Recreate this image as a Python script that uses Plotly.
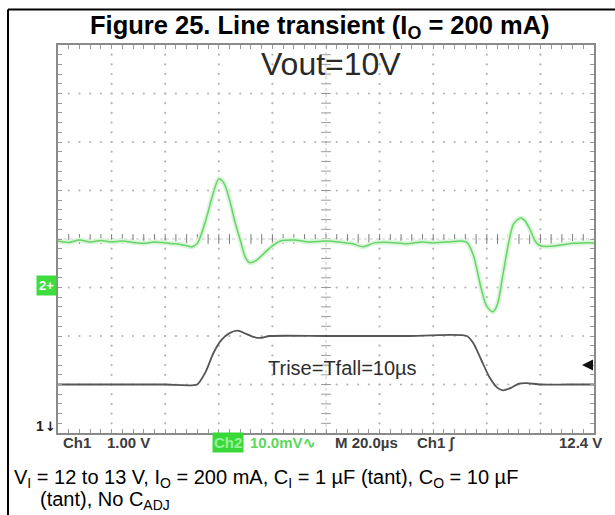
import plotly.graph_objects as go

# ---------------- data ----------------
# Ch1: input voltage (V), 1.00 V/div
time_ch1 = [0, 20, 40, 51.9, 55, 58, 61, 64, 67, 70, 73, 75.5, 79, 100, 130,
            152.6, 155, 158, 161, 164, 166, 169, 172, 175, 180, 190, 200]
ch1_volts = [12.0, 12.0, 12.0, 12.0, 12.25, 12.65, 12.92, 13.06, 13.11, 13.05, 12.98, 12.96, 13.0, 13.0, 13.0,
             13.0, 12.85, 12.5, 12.15, 11.93, 11.88, 11.93, 12.02, 12.03, 12.0, 12.0, 12.0]

# Ch2: output voltage deviation (mV), 10.0 mV/div, AC coupled
time_ch2 = [0, 4, 8, 12, 16, 20, 24, 28, 32, 36, 40, 44, 48, 50, 52, 55, 58, 60, 62, 64, 66, 68,
            70, 71.6, 74, 77, 80, 83, 88, 94, 100, 106, 110, 114, 118, 124, 130, 136, 140,
            146, 150, 152.6, 155, 158, 160, 162.3, 164, 166, 168.3, 170, 172.4, 174, 176,
            178, 180, 184, 188, 192, 196, 200]
ch2_mv = [0.0, -0.3, 0.2, -0.2, 0.1, -0.2, 0.0, -0.3, -0.5, -0.2, -0.4, -0.6, -1.0, -1.2, -0.5, 4.0, 10.0,
          12.8, 11.8, 8.5, 4.0, 0.2, -3.5, -4.5, -4.0, -2.5, -1.0, 0.0, 0.2, -0.2, 0.0, -0.3, -0.6,
          -1.2, -0.4, -0.3, -0.6, -0.2, -0.4, -0.2, 0.0, -0.3, -3.0, -10.0, -13.5, -14.6, -13.0,
          -7.0, 0.0, 3.5, 4.7, 4.3, 2.5, 0.0, -1.0, -1.1, -0.8, -0.5, -0.4, -0.4]

CH1_V_PER_DIV = 1.0
CH1_CENTER_V = 15.0       # volts at screen centre
CH1_TRIGGER_V = 12.4
CH2_MV_PER_DIV = 10.0
CH2_OFFSET_DIV = -0.04

T_PER_DIV = 20.0          # µs/div
N_XDIV, N_YDIV = 10, 8

title_text = "Figure 25. Line transient (I<sub>O</sub> = 200 mA)"
caption_line1 = ("V<sub>I</sub> = 12 to 13 V, I<sub>O</sub> = 200 mA, C<sub>I</sub> = 1 µF (tant), "
                 "C<sub>O</sub> = 10 µF")
caption_line2 = "(tant), No C<sub>ADJ</sub>"

# ---------------- layout geometry ----------------
W, H = 615, 515
PL, PR, PT, PB = 58, 594, 45, 433   # plot area in pixels


def px(x):
    return (x - PL) / (PR - PL)


def py(y):
    return (PB - y) / (PB - PT)


x_max = T_PER_DIV * N_XDIV
y_half = N_YDIV / 2

ch1_div = [(v - CH1_CENTER_V) / CH1_V_PER_DIV for v in ch1_volts]
ch2_div = [m / CH2_MV_PER_DIV + CH2_OFFSET_DIV for m in ch2_mv]

fig = go.Figure()

# dotted graticule
minor_x = T_PER_DIV / 5
minor_y = 0.2
gx, gy = [], []
for i in range(1, N_XDIV):
    if i == N_XDIV // 2:
        continue
    xv = i * T_PER_DIV
    k = 1
    while k * minor_y < 2 * y_half - 1e-9:
        gx.append(xv)
        gy.append(-y_half + k * minor_y)
        k += 1
for j in range(1, N_YDIV):
    if j == N_YDIV // 2:
        continue
    yv = -y_half + j
    k = 1
    while k * minor_x < x_max - 1e-9:
        gx.append(k * minor_x)
        gy.append(yv)
        k += 1
fig.add_trace(go.Scatter(x=gx, y=gy, mode="markers",
                         marker=dict(size=2.2, color="#b4b4b4"),
                         hoverinfo="skip", showlegend=False))

# centre crosshair with tick marks
cx = x_max / 2
fig.add_trace(go.Scatter(x=[cx, cx], y=[-y_half, y_half], mode="lines",
                         line=dict(color="#c8c8c8", width=1, dash="dot"),
                         hoverinfo="skip", showlegend=False))
fig.add_trace(go.Scatter(x=[0, x_max], y=[0, 0], mode="lines",
                         line=dict(color="#c8c8c8", width=1, dash="dot"),
                         hoverinfo="skip", showlegend=False))
tyv = [-y_half + k * minor_y for k in range(1, int(round(2 * y_half / minor_y)))]
fig.add_trace(go.Scatter(x=[cx] * len(tyv), y=tyv, mode="markers",
                         marker=dict(symbol="line-ew", size=7, line=dict(width=1, color="#9a9a9a")),
                         hoverinfo="skip", showlegend=False))
txv = [k * minor_x for k in range(1, int(round(x_max / minor_x)))]
fig.add_trace(go.Scatter(x=txv, y=[0] * len(txv), mode="markers",
                         marker=dict(symbol="line-ns", size=7, line=dict(width=1, color="#7a7a7a")),
                         hoverinfo="skip", showlegend=False))

# traces
fig.add_trace(go.Scatter(x=time_ch2, y=ch2_div, mode="lines",
                         line=dict(color="#daf6da", width=5, shape="spline", smoothing=0.8),
                         hoverinfo="skip", showlegend=False))
fig.add_trace(go.Scatter(x=time_ch2, y=ch2_div, mode="lines", name="Ch2",
                         line=dict(color="#66d466", width=1.5, shape="spline", smoothing=0.8),
                         showlegend=False))
fig.add_trace(go.Scatter(x=time_ch1, y=ch1_div, mode="lines", name="Ch1",
                         line=dict(color="#555555", width=1.8, shape="spline", smoothing=0.6),
                         showlegend=False))

axis_common = dict(showgrid=False, zeroline=False, showticklabels=False,
                   showline=True, linecolor="#8a8a8a", linewidth=1.5, mirror="ticks",
                   ticks="inside", ticklen=4, tickcolor="#9a9a9a", tickwidth=1)
fig.update_xaxes(range=[0, x_max], tick0=0, dtick=minor_x, **axis_common)
fig.update_yaxes(range=[-y_half, y_half], tick0=-y_half, dtick=minor_y, **axis_common)

ann = []
SANS = "Liberation Sans, Arial, sans-serif"


def add_text(text, x, y, size, color="#333333", bold=False, xanchor="center", bg=None,
             family=SANS, pad=1):
    a = dict(text=("<b>%s</b>" % text) if bold else text, xref="paper", yref="paper",
             x=px(x), y=py(y), xanchor=xanchor, yanchor="middle", showarrow=False,
             font=dict(size=size, color=color, family=family))
    if bg:
        a["bgcolor"] = bg
        a["borderpad"] = pad
    ann.append(a)


add_text(title_text, 320, 27, 25.5, color="#000000", bold=True)
add_text("Vout=10V", 331, 64, 32, color="#2a2a2a")
add_text("Trise=Tfall=10µs", 342, 368, 20, color="#2e2e2e")
add_text("2+", 46, 285, 13, color="#ffffff", bold=True, bg="#3fdc3f", pad=2)
add_text("1", 40, 426, 14, color="#222222", bold=True)
add_text("↓", 50, 426, 13, color="#222222", bold=True, family="DejaVu Sans")

# trigger level arrow on the right edge (Ch1 trigger at 12.4 V)
ann.append(dict(x=px(582), y=(CH1_TRIGGER_V - CH1_CENTER_V) / CH1_V_PER_DIV,
                xref="paper", yref="y", text="", showarrow=True,
                ax=11, ay=0, arrowhead=2, arrowsize=1, arrowwidth=2.2, arrowcolor="#111111"))

# bottom readout row
row_y = 443
add_text("Ch1", 77, row_y, 15, color="#3c3c3c", bold=True)
add_text("1.00 V", 128, row_y, 15, color="#3c3c3c", bold=True)
add_text("Ch2", 228, row_y, 15, color="#9af09a", bold=True, bg="#39d839")
add_text("10.0mV∿", 283, row_y, 15, color="#5cd85c", bold=True)
add_text("M 20.0µs", 366, row_y, 15, color="#3c3c3c", bold=True)
add_text("Ch1 ∫", 436, row_y, 15, color="#3c3c3c", bold=True)
add_text("12.4 V", 580, row_y, 15, color="#3c3c3c", bold=True)

# caption
add_text(caption_line1, 12, 478, 20, color="#000000", xanchor="left")
add_text(caption_line2, 38, 500, 20, color="#000000", xanchor="left")

shapes = [
    dict(type="line", xref="paper", yref="paper", x0=px(8), x1=px(615), y0=py(9.5), y1=py(9.5),
         line=dict(color="#000000", width=2)),
    dict(type="line", xref="paper", yref="paper", x0=px(8), x1=px(8), y0=py(9.5), y1=py(515),
         line=dict(color="#000000", width=2)),
]

fig.update_layout(width=W, height=H,
                  margin=dict(l=PL, r=W - PR, t=PT, b=H - PB, autoexpand=False),
                  paper_bgcolor="#ffffff", plot_bgcolor="#ffffff",
                  annotations=ann, shapes=shapes, showlegend=False)

fig.write_html("out.html", config={"displayModeBar": False},
               post_script="document.body.style.margin='0px';document.body.style.overflow='hidden';")
